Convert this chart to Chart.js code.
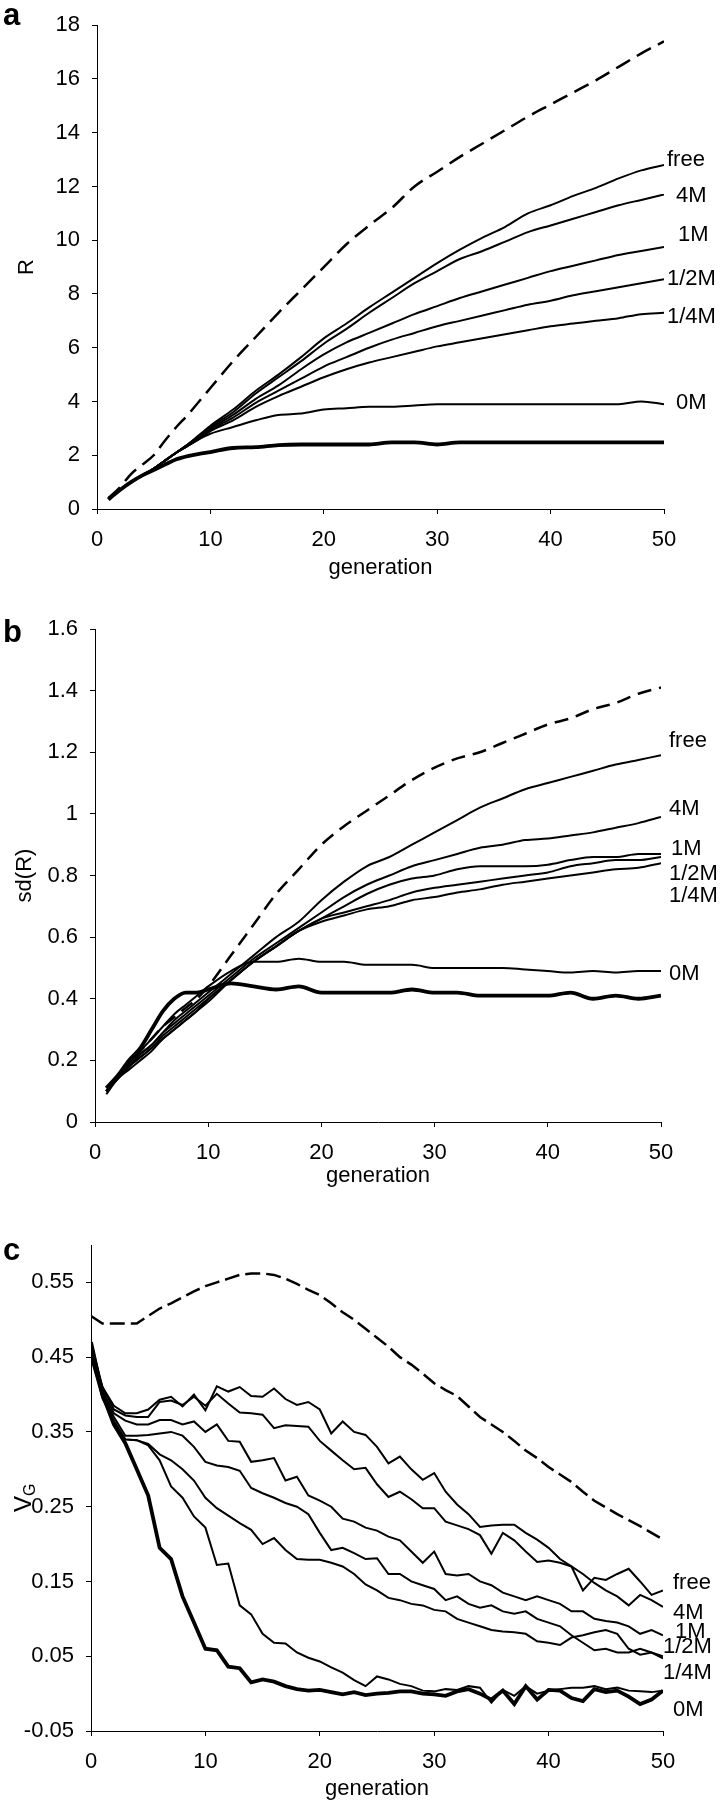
<!DOCTYPE html>
<html>
<head>
<meta charset="utf-8">
<script src="https://cdn.jsdelivr.net/npm/chart.js@4.4.1/dist/chart.umd.min.js"></script>
<style>
  body { margin: 0; background: #fff; }
  canvas { position: absolute; left: 0; }
</style>
</head>
<body>
<canvas id="chartA" style="top:0" width="723" height="595"></canvas>
<canvas id="chartB" style="top:595px" width="723" height="605"></canvas>
<canvas id="chartC" style="top:1200px" width="723" height="600"></canvas>
<script>
const FONT = '"Liberation Sans", Arial, sans-serif';
Chart.defaults.font.family = FONT;
Chart.defaults.font.size = 22;
Chart.defaults.color = "#000";

// shared
const xTicks = [0, 10, 20, 30, 40, 50];
const seriesNames = ["free", "4M", "1M", "1/2M", "1/4M", "0M"];
const genAB = [1, 2, 3, 4, 5, 6, 7, 8, 9, 10, 12, 14, 16, 18, 20, 22, 24, 26, 28, 30, 32, 34, 36, 38, 40, 42, 44, 46, 48, 50];
const genC = [0, 1, 2, 3, 4, 5, 6, 7, 8, 9, 10, 11, 12, 13, 14, 15, 16, 17, 18, 19, 20, 21, 22, 23, 24, 25,
  26, 27, 28, 29, 30, 31, 32, 33, 34, 35, 36, 37, 38, 39, 40, 41, 42, 43, 44, 45, 46, 47, 48, 49, 50];

// panel a : R
const yTicksA = [0, 2, 4, 6, 8, 10, 12, 14, 16, 18];
const dashedA = [0.4, 0.8, 1.3, 1.65, 2.0, 2.55, 3.05, 3.5, 4.0, 4.5, 5.5, 6.4, 7.3, 8.15, 9.0, 9.85, 10.55, 11.2, 12.0, 12.55, 13.1, 13.6, 14.1, 14.6, 15.05, 15.5, 15.95, 16.45, 16.95, 17.4];
const freeA = [0.4, 0.7, 1.0, 1.25, 1.5, 1.8, 2.1, 2.4, 2.75, 3.1, 3.7, 4.4, 5.0, 5.65, 6.35, 6.9, 7.5, 8.05, 8.6, 9.15, 9.65, 10.1, 10.5, 11.0, 11.3, 11.65, 11.95, 12.3, 12.6, 12.8];
const m4A = [0.4, 0.7, 1.0, 1.25, 1.5, 1.8, 2.1, 2.4, 2.7, 3.05, 3.6, 4.3, 4.9, 5.5, 6.15, 6.7, 7.3, 7.85, 8.4, 8.85, 9.3, 9.6, 9.95, 10.3, 10.55, 10.8, 11.05, 11.3, 11.5, 11.7];
const m1A = [0.4, 0.7, 1.0, 1.25, 1.5, 1.8, 2.1, 2.4, 2.7, 3.0, 3.5, 4.1, 4.6, 5.2, 5.75, 6.2, 6.55, 6.9, 7.25, 7.55, 7.85, 8.1, 8.35, 8.6, 8.85, 9.05, 9.25, 9.45, 9.6, 9.75];
const mHalfA = [0.4, 0.7, 1.0, 1.25, 1.5, 1.8, 2.1, 2.35, 2.65, 2.95, 3.4, 3.95, 4.4, 4.85, 5.3, 5.65, 6.0, 6.3, 6.55, 6.8, 7.0, 7.2, 7.4, 7.6, 7.75, 7.95, 8.1, 8.25, 8.4, 8.55];
const mQuarterA = [0.4, 0.7, 1.0, 1.25, 1.5, 1.8, 2.1, 2.35, 2.6, 2.9, 3.3, 3.8, 4.2, 4.55, 4.9, 5.2, 5.45, 5.65, 5.85, 6.05, 6.2, 6.35, 6.5, 6.65, 6.8, 6.9, 7.0, 7.1, 7.25, 7.3];
const m0A = [0.4, 0.7, 1.0, 1.25, 1.5, 1.8, 2.1, 2.35, 2.6, 2.8, 3.05, 3.3, 3.5, 3.55, 3.7, 3.75, 3.8, 3.8, 3.85, 3.9, 3.9, 3.9, 3.9, 3.9, 3.9, 3.9, 3.9, 3.9, 4.0, 3.9];
const thickA = [0.35, 0.7, 1.0, 1.25, 1.45, 1.65, 1.85, 1.97, 2.05, 2.12, 2.27, 2.3, 2.38, 2.4, 2.4, 2.4, 2.4, 2.48, 2.48, 2.4, 2.48, 2.48, 2.48, 2.48, 2.48, 2.48, 2.48, 2.48, 2.48, 2.48];

// panel b : sd(R)
const yTicksB = [0, 0.2, 0.4, 0.6, 0.8, 1, 1.2, 1.4, 1.6];
const dashedB = [0.1, 0.15, 0.19, 0.23, 0.27, 0.31, 0.34, 0.37, 0.4, 0.44, 0.54, 0.64, 0.74, 0.82, 0.9, 0.96, 1.01, 1.06, 1.11, 1.15, 1.18, 1.2, 1.23, 1.26, 1.29, 1.31, 1.34, 1.36, 1.39, 1.41];
const freeB = [0.1, 0.14, 0.18, 0.22, 0.25, 0.29, 0.33, 0.36, 0.39, 0.42, 0.48, 0.54, 0.6, 0.65, 0.72, 0.78, 0.83, 0.86, 0.9, 0.94, 0.98, 1.02, 1.05, 1.08, 1.1, 1.12, 1.14, 1.16, 1.175, 1.19];
const m4B = [0.1, 0.14, 0.18, 0.22, 0.25, 0.29, 0.32, 0.35, 0.38, 0.41, 0.47, 0.53, 0.58, 0.63, 0.68, 0.73, 0.77, 0.8, 0.83, 0.85, 0.87, 0.89, 0.9, 0.915, 0.92, 0.93, 0.94, 0.955, 0.97, 0.99];
const m1B = [0.1, 0.14, 0.18, 0.21, 0.24, 0.28, 0.31, 0.34, 0.37, 0.4, 0.46, 0.52, 0.57, 0.62, 0.66, 0.7, 0.74, 0.77, 0.79, 0.8, 0.82, 0.83, 0.83, 0.83, 0.835, 0.85, 0.86, 0.86, 0.87, 0.87];
const mHalfB = [0.1, 0.15, 0.18, 0.21, 0.24, 0.27, 0.3, 0.33, 0.36, 0.4, 0.46, 0.52, 0.57, 0.62, 0.66, 0.68, 0.7, 0.72, 0.745, 0.76, 0.77, 0.78, 0.79, 0.8, 0.81, 0.83, 0.84, 0.85, 0.85, 0.86];
const mQuarterB = [0.09, 0.14, 0.17, 0.2, 0.23, 0.27, 0.3, 0.33, 0.36, 0.39, 0.46, 0.52, 0.57, 0.62, 0.65, 0.67, 0.69, 0.7, 0.72, 0.73, 0.745, 0.755, 0.77, 0.78, 0.79, 0.8, 0.81, 0.82, 0.825, 0.84];
const m0B = [0.1, 0.15, 0.19, 0.23, 0.27, 0.31, 0.35, 0.38, 0.41, 0.44, 0.49, 0.52, 0.52, 0.53, 0.52, 0.52, 0.51, 0.51, 0.51, 0.5, 0.5, 0.5, 0.5, 0.495, 0.49, 0.485, 0.49, 0.485, 0.49, 0.49];
const thickB = [0.11, 0.15, 0.2, 0.24, 0.3, 0.36, 0.4, 0.42, 0.42, 0.43, 0.45, 0.44, 0.43, 0.44, 0.42, 0.42, 0.42, 0.42, 0.43, 0.42, 0.42, 0.41, 0.41, 0.41, 0.41, 0.42, 0.4, 0.41, 0.4, 0.41];

// panel c : VG
const yTicksC = [-0.05, 0.05, 0.15, 0.25, 0.35, 0.45, 0.55];
const dashedC = [0.505, 0.495, 0.495, 0.495, 0.495, 0.505, 0.515, 0.522, 0.53, 0.538,
  0.545, 0.55, 0.555, 0.56, 0.562, 0.562, 0.56, 0.555, 0.548, 0.54,
  0.533, 0.522, 0.51, 0.5, 0.488, 0.476, 0.464, 0.45, 0.44, 0.428,
  0.415, 0.406, 0.398, 0.384, 0.37, 0.36, 0.35, 0.338, 0.325, 0.315,
  0.303, 0.293, 0.283, 0.27, 0.258, 0.249, 0.24, 0.232, 0.224, 0.215, 0.206];
const freeC = [0.47, 0.41, 0.385, 0.375, 0.375, 0.38, 0.393, 0.397, 0.384, 0.4,
  0.379, 0.411, 0.404, 0.41, 0.398, 0.397, 0.408, 0.394, 0.386, 0.39,
  0.38, 0.348, 0.364, 0.35, 0.346, 0.33, 0.308, 0.317, 0.3, 0.286,
  0.295, 0.27, 0.253, 0.24, 0.223, 0.225, 0.226, 0.226, 0.215, 0.206,
  0.195, 0.18, 0.17, 0.138, 0.155, 0.152, 0.16, 0.167, 0.15, 0.132, 0.138];
const m4C = [0.46, 0.41, 0.38, 0.372, 0.37, 0.37, 0.39, 0.392, 0.386, 0.397,
  0.385, 0.401, 0.388, 0.376, 0.375, 0.373, 0.355, 0.359, 0.358, 0.357,
  0.338, 0.325, 0.312, 0.3, 0.302, 0.28, 0.263, 0.27, 0.26, 0.248,
  0.248, 0.23, 0.225, 0.22, 0.212, 0.187, 0.215, 0.205, 0.19, 0.176,
  0.178, 0.175, 0.17, 0.16, 0.148, 0.138, 0.13, 0.118, 0.132, 0.125, 0.116];
const m1C = [0.46, 0.405, 0.375, 0.365, 0.36, 0.36, 0.366, 0.366, 0.36, 0.364,
  0.35, 0.36, 0.338, 0.337, 0.31, 0.312, 0.315, 0.285, 0.29, 0.265,
  0.258, 0.25, 0.234, 0.23, 0.222, 0.218, 0.21, 0.205, 0.19, 0.175,
  0.19, 0.16, 0.158, 0.16, 0.15, 0.145, 0.135, 0.13, 0.125, 0.13,
  0.125, 0.12, 0.11, 0.11, 0.1, 0.097, 0.095, 0.09, 0.08, 0.085, 0.078];
const mHalfC = [0.45, 0.4, 0.37, 0.345, 0.345, 0.346, 0.348, 0.35, 0.345, 0.33,
  0.31, 0.305, 0.303, 0.298, 0.275, 0.268, 0.262, 0.255, 0.25, 0.24,
  0.215, 0.192, 0.195, 0.188, 0.18, 0.181, 0.16, 0.16, 0.15, 0.145,
  0.14, 0.125, 0.13, 0.12, 0.115, 0.118, 0.11, 0.107, 0.11, 0.1,
  0.095, 0.09, 0.078, 0.068, 0.058, 0.06, 0.055, 0.055, 0.06, 0.055, 0.047];
const mQuarterC = [0.45, 0.395, 0.365, 0.34, 0.339, 0.334, 0.32, 0.312, 0.3, 0.285,
  0.262, 0.248, 0.238, 0.228, 0.219, 0.2, 0.208, 0.192, 0.18, 0.179,
  0.179, 0.175, 0.17, 0.16, 0.146, 0.138, 0.128, 0.125, 0.12, 0.118,
  0.112, 0.11, 0.1, 0.095, 0.09, 0.085, 0.083, 0.082, 0.08, 0.07,
  0.068, 0.065, 0.075, 0.078, 0.082, 0.085, 0.08, 0.06, 0.052, 0.055, 0.05];
const m0C = [0.46, 0.4, 0.36, 0.34, 0.339, 0.332, 0.312, 0.277, 0.262, 0.237,
  0.222, 0.172, 0.174, 0.118, 0.106, 0.08, 0.068, 0.067, 0.055, 0.048,
  0.043, 0.035, 0.028, 0.018, 0.01, 0.023, 0.019, 0.013, 0.01, 0.004,
  0.003, 0.006, 0.005, 0.01, 0.008, -0.012, 0.005, -0.003, 0.01, 0.0,
  0.004, 0.006, 0.008, 0.008, 0.01, 0.006, 0.008, 0.004, 0.003, 0.002, 0.004];
const thickC = [0.47, 0.4, 0.36, 0.335, 0.3, 0.265, 0.195, 0.18, 0.13, 0.095,
  0.06, 0.058, 0.036, 0.034, 0.015, 0.019, 0.016, 0.01, 0.006, 0.004,
  0.005, 0.002, -0.001, 0.002, -0.002, 0.0, 0.001, 0.003, 0.003, 0.0,
  -0.001, -0.003, 0.003, 0.006, 0.0, -0.008, 0.004, -0.014, 0.01, -0.008,
  0.005, 0.004, -0.006, -0.01, 0.006, 0.002, 0.004, -0.004, -0.014, -0.008, 0.004];

function line(xs, ys, width, dash, smooth) {
  return {
    data: xs.map((x, i) => ({ x: x, y: ys[i] })),
    borderColor: "#000",
    borderWidth: width,
    borderDash: dash || [],
    pointRadius: 0,
    fill: false,
    tension: 0,
    cubicInterpolationMode: smooth ? "monotone" : "default",
  };
}

function series(xs, dashed, thin, thick, dash, smooth) {
  const sets = [line(xs, dashed, 2.5, dash, smooth)];
  thin.forEach((ys) => sets.push(line(xs, ys, 2, null, smooth)));
  sets.push(line(xs, thick, 3.8, null, smooth));
  return sets;
}

// letters, curve names and the V_G axis title
const annotate = {
  id: "annotate",
  afterDraw(chart, args, o) {
    const { ctx, chartArea, scales } = chart;
    ctx.save();
    ctx.fillStyle = "#000";
    ctx.textAlign = "left";
    ctx.textBaseline = "alphabetic";
    ctx.font = "bold 31px " + FONT;
    ctx.fillText(o.letter, 3, o.letterBase);
    ctx.font = "22px " + FONT;
    ctx.textBaseline = "middle";
    seriesNames.forEach((name, i) => {
      ctx.fillText(name, chartArea.right + o.dx[i], scales.y.getPixelForValue(o.at[i]));
    });
    if (o.vg) {
      ctx.translate(31, o.vg);
      ctx.rotate(-Math.PI / 2);
      ctx.textBaseline = "alphabetic";
      ctx.font = "24px " + FONT;
      ctx.fillText("V", 0, 0);
      const w = ctx.measureText("V").width;
      ctx.font = "16px " + FONT;
      ctx.fillText("G", w, 4);
    }
    ctx.restore();
  },
};

function panel(id, p) {
  const canvas = document.getElementById(id);
  const axisLook = {
    grid: { drawOnChartArea: false, tickLength: 5, color: "#000", lineWidth: 1 },
    border: { color: "#000", width: 1 },
  };
  return new Chart(canvas, {
    type: "line",
    data: { datasets: p.datasets },
    options: {
      responsive: false,
      animation: false,
      devicePixelRatio: 1,
      events: [],
      layout: {
        padding: { left: 0, top: p.top, right: canvas.width - p.right, bottom: canvas.height - p.axisBottom },
      },
      plugins: { legend: { display: false }, tooltip: { enabled: false }, annotate: p.notes },
      scales: {
        x: {
          type: "linear",
          min: 0,
          max: 50,
          afterBuildTicks: (s) => { s.ticks = xTicks.map((v) => ({ value: v })); },
          afterFit: (s) => { s.height = p.axisBottom - p.bottom; },
          ticks: { padding: 13, maxRotation: 0, autoSkip: false },
          ...axisLook,
          title: { display: true, text: "generation", padding: 0, font: { size: 22, lineHeight: 1 } },
        },
        y: {
          type: "linear",
          min: p.yMin,
          max: p.yMax,
          afterBuildTicks: (s) => { s.ticks = p.yTicks.map((v) => ({ value: v })); },
          afterFit: (s) => { s.width = p.left; },
          ticks: { padding: 12, callback: (v) => String(+v.toFixed(2)) },
          ...axisLook,
          title: {
            display: !!p.yTitle,
            text: p.yTitle || "",
            padding: { top: p.yTitlePad || 0 },
            font: { size: 22, lineHeight: 1 },
          },
        },
      },
    },
    plugins: [annotate],
  });
}

panel("chartA", {
  left: 97, right: 664, top: 14, bottom: 509, axisBottom: 579,
  yMin: 0, yMax: 18, yTicks: yTicksA, yTitle: "R", yTitlePad: 16,
  datasets: series(genAB, dashedA, [freeA, m4A, m1A, mHalfA, mQuarterA, m0A], thickA, [16, 8], true),
  notes: { letter: "a", letterBase: 25, at: [12.98, 11.64, 10.2, 8.55, 7.13, 3.96], dx: [3, 12, 14, 3, 3, 12] },
});

panel("chartB", {
  left: 95, right: 661, top: 34, bottom: 527, axisBottom: 592,
  yMin: 0, yMax: 1.6, yTicks: yTicksB, yTitle: "sd(R)", yTitlePad: 14,
  datasets: series(genAB, dashedB, [freeB, m4B, m1B, mHalfB, mQuarterB, m0B], thickB, [14, 8], true),
  notes: { letter: "b", letterBase: 47, at: [1.238, 1.017, 0.887, 0.806, 0.733, 0.482], dx: [8, 8, 10, 8, 8, 8] },
});

panel("chartC", {
  left: 91, right: 663, top: 45, bottom: 531, axisBottom: 600,
  yMin: -0.05, yMax: 0.6, yTicks: yTicksC,
  datasets: series(genC, dashedC, [freeC, m4C, m1C, mHalfC, mQuarterC, m0C], thickC, [15, 6], false),
  notes: { letter: "c", letterBase: 60, vg: 312, at: [0.148, 0.108, 0.082, 0.062, 0.027, -0.022], dx: [10, 10, 12, 0, 0, 10] },
});
</script>
</body>
</html>
